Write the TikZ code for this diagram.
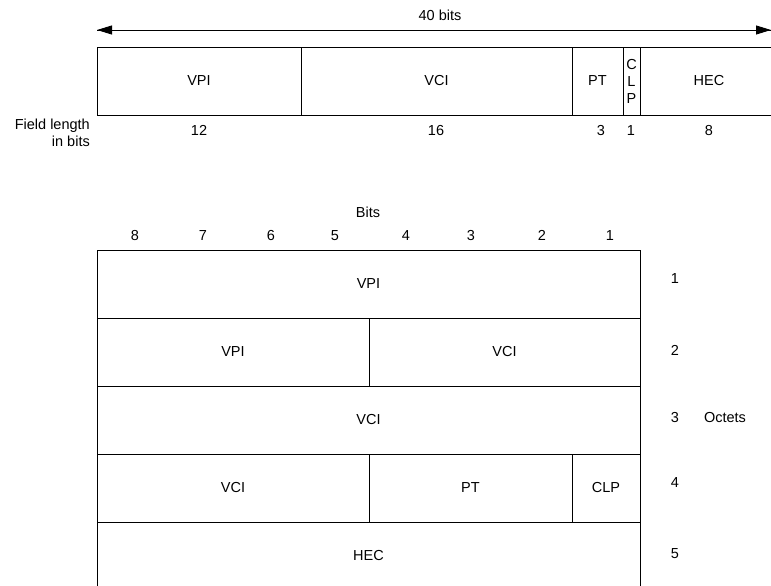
\documentclass[tikz,border=0pt]{standalone}
\usepackage{fontspec}
\setmainfont{Liberation Sans}
\usetikzlibrary{arrows.meta,positioning}

\begin{document}
\begin{tikzpicture}[x=1pt,y=1pt,font=\fontsize{14.5pt}{17pt}\selectfont,
   f/.style={draw,line width=0.9pt,minimum height=68pt,inner sep=0pt,outer sep=0pt,
             anchor=north west},
   d/.style={anchor=base,inner sep=0pt},
   tip/.style={-{Triangle[length=15pt,width=9pt]}}]
  \useasboundingbox (0,0) rectangle (771,-586);
  % cell header, one line
  \coordinate (al) at (97,-30);
  \coordinate (ar) at (771,-30);
  \draw[tip,line width=0.9pt] (al) -- (ar);
  \draw[tip,line width=0.9pt] (ar) -- (al);
  \node (len) at (440,-15) {40 bits};
  \node[f,minimum width=204pt] (h1) at (97,-47) {VPI};
  \node[f,minimum width=271pt] (h2) at (301,-47) {VCI};
  \node[f,minimum width=51pt] (h3) at (572,-47) {PT};
  \node[f,minimum width=17pt,align=center] (h4) at (623,-47) {C\\L\\P};
  \node[f,minimum width=138pt] (h5) at (640,-47) {HEC};
  \node[align=right,anchor=east,inner sep=0pt] (fl) at (90,-133) {Field length\\in bits};
  \foreach \n/\x/\v in {1/199/12,2/436/16,3/601/3,4/631/1,5/709/8}
    \node[d] (n\n) at (\x,-135.5) {\v};
  % cell header, octet by octet
  \node (bits) at (368,-212) {Bits};
  \foreach \b/\x in {8/135,7/203,6/271,5/335,4/406,3/471,2/542,1/610}
    \node[d] (b\b) at (\x,-240.5) {\b};
  \node[f,minimum width=543pt] (r1) at (97,-250) {VPI};
  \node[f,minimum width=272pt] (r2a) at (97,-318) {VPI};
  \node[f,minimum width=271pt] (r2b) at (369,-318) {VCI};
  \node[f,minimum width=543pt] (r3) at (97,-386) {VCI};
  \node[f,minimum width=272pt] (r4a) at (97,-454) {VCI};
  \node[f,minimum width=203pt] (r4b) at (369,-454) {PT};
  \node[f,minimum width=68pt] (r4c) at (572,-454) {CLP};
  \node[f,minimum width=543pt] (r5) at (97,-522) {HEC};
  \foreach \o/\y in {1/279,2/350,3/418,4/483,5/554}
    \node (o\o) at (675,-\y) {\o};
  \node (oct) at (725,-418) {Octets};
\end{tikzpicture}
\end{document}
